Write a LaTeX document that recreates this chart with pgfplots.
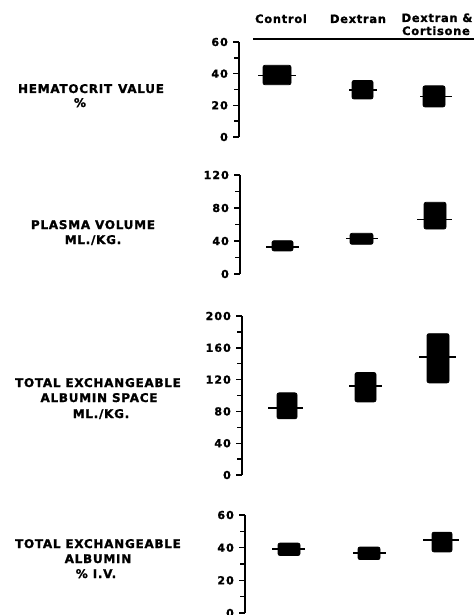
\documentclass[border=0pt]{standalone}
\usepackage{fontspec}
\usepackage{pgfplots}
\pgfplotsset{compat=1.18}
\newfontfamily\lab[LetterSpace=6, BoldFeatures={FakeBold=1.3}]{DejaVu Sans}
\newfontfamily\tlab[LetterSpace=10, BoldFeatures={FakeBold=1.3}]{DejaVu Sans}
\newcommand\labfont{\lab\bfseries\fontsize{12}{15}\selectfont}
\newcommand\headfont{\lab\bfseries\fontsize{11.5}{13}\selectfont}
\pgfplotsset{
  panel/.style={
    scale only axis, anchor=south west,
    axis x line=none, axis y line=left,
    axis line style={-, line width=1.8pt, black},
    tick align=outside, major tick length=6pt, minor tick length=5pt,
    tick style={black, line width=1.4pt},
    minor y tick num=1,
    /pgf/number format/assume math mode=true,
    yticklabel style={font=\tlab\bfseries\fontsize{11}{12}\selectfont, inner sep=0pt, xshift=-5pt},
    clip=false,
  },
  boxst/.style={fill=black, draw=black, line width=0.8pt, rounded corners=2pt},
  meanst/.style={black, line width=1.6pt},
}
\begin{document}
\begin{tikzpicture}
\useasboundingbox (0,0) rectangle (474pt,-615pt);
% Panel 1: Hematocrit
\begin{axis}[panel, at={(239pt,-137pt)}, width=235pt, height=95pt,
  xmin=239, xmax=474, ymin=0, ymax=60, ytick={0,20,40,60}]
\addplot[boxst] coordinates {(263,33) (291,33) (291,45.3) (263,45.3)} -- cycle;
\addplot[meanst] coordinates {(258,38.8) (296,38.8)};
\addplot[boxst] coordinates {(352,24) (373,24) (373,35.7) (352,35.7)} -- cycle;
\addplot[meanst] coordinates {(349,29.8) (377,29.8)};
\addplot[boxst] coordinates {(423,19) (445,19) (445,32.3) (423,32.3)} -- cycle;
\addplot[meanst] coordinates {(420,25.5) (452,25.5)};
\end{axis}
% Panel 2: Plasma volume
\begin{axis}[panel, at={(240pt,-274pt)}, width=234pt, height=99pt,
  xmin=240, xmax=474, ymin=0, ymax=120, ytick={0,40,80,120}]
\addplot[boxst] coordinates {(272,28) (293,28) (293,40.4) (272,40.4)} -- cycle;
\addplot[meanst] coordinates {(266,32.7) (299,32.7)};
\addplot[boxst] coordinates {(350,36) (373,36) (373,49.3) (350,49.3)} -- cycle;
\addplot[meanst] coordinates {(346,43.2) (378,43.2)};
\addplot[boxst] coordinates {(424,54.5) (446,54.5) (446,86.9) (424,86.9)} -- cycle;
\addplot[meanst] coordinates {(417,66.3) (452,66.3)};
\end{axis}
% Panel 3: Total exchangeable albumin space
\begin{axis}[panel, at={(242pt,-475pt)}, width=232pt, height=159pt,
  xmin=242, xmax=474, ymin=0, ymax=200, ytick={0,40,80,120,160,200}]
\addplot[boxst] coordinates {(277,70.7) (297,70.7) (297,103.3) (277,103.3)} -- cycle;
\addplot[meanst] coordinates {(268,84.5) (303,84.5)};
\addplot[boxst] coordinates {(355,92) (376,92) (376,128.9) (355,128.9)} -- cycle;
\addplot[meanst] coordinates {(349,112.1) (382,112.1)};
\addplot[boxst] coordinates {(427,115.9) (449,115.9) (449,177.8) (427,177.8)} -- cycle;
\addplot[meanst] coordinates {(419,148.5) (456,148.5)};
\end{axis}
% Panel 4: Total exchangeable albumin
\begin{axis}[panel, at={(245pt,-613pt)}, width=229pt, height=98pt,
  xmin=245, xmax=474, ymin=0, ymax=60, ytick={0,20,40,60}]
\addplot[boxst] coordinates {(278,35.2) (300,35.2) (300,42.8) (278,42.8)} -- cycle;
\addplot[meanst] coordinates {(272,39.2) (305,39.2)};
\addplot[boxst] coordinates {(358,32.7) (380,32.7) (380,40.4) (358,40.4)} -- cycle;
\addplot[meanst] coordinates {(353,36.8) (386,36.8)};
\addplot[boxst] coordinates {(432,37.4) (452,37.4) (452,49.5) (432,49.5)} -- cycle;
\addplot[meanst] coordinates {(423,44.6) (459,44.6)};
\end{axis}
% column headers
\draw[line width=1.6pt] (253pt,-39pt) -- (474pt,-39pt);
\node[font=\headfont, anchor=base, inner sep=0pt] at (281pt,-23pt) {Control};
\node[font=\headfont, anchor=base, inner sep=0pt] at (358pt,-23pt) {Dextran};
\node[font=\headfont, anchor=base, inner sep=0pt] at (437pt,-22pt) {Dextran \&};
\node[font=\headfont, anchor=base, inner sep=0pt] at (436pt,-35pt) {Cortisone};
% row labels
\node[font=\labfont, anchor=base, inner sep=0pt] at (91pt,-93pt) {HEMATOCRIT\hspace{6pt}VALUE};
\node[font=\labfont, anchor=base, inner sep=0pt] at (80pt,-107pt) {\%};
\node[font=\labfont, anchor=base, inner sep=0pt] at (93pt,-229pt) {PLASMA VOLUME};
\node[font=\labfont, anchor=base, inner sep=0pt] at (93pt,-244pt) {ML./KG.};
\node[font=\labfont, anchor=base, inner sep=0pt] at (98pt,-387pt) {TOTAL EXCHANGEABLE};
\node[font=\labfont, anchor=base, inner sep=0pt] at (99pt,-402pt) {ALBUMIN SPACE};
\node[font=\labfont, anchor=base, inner sep=0pt] at (101pt,-418pt) {ML./KG.};
\node[font=\labfont, anchor=base, inner sep=0pt] at (98pt,-548pt) {TOTAL EXCHANGEABLE};
\node[font=\labfont, anchor=base, inner sep=0pt] at (98pt,-563pt) {ALBUMIN};
\node[font=\labfont, anchor=base, inner sep=0pt] at (96pt,-578pt) {\% I.V.};
\end{tikzpicture}
\end{document}
